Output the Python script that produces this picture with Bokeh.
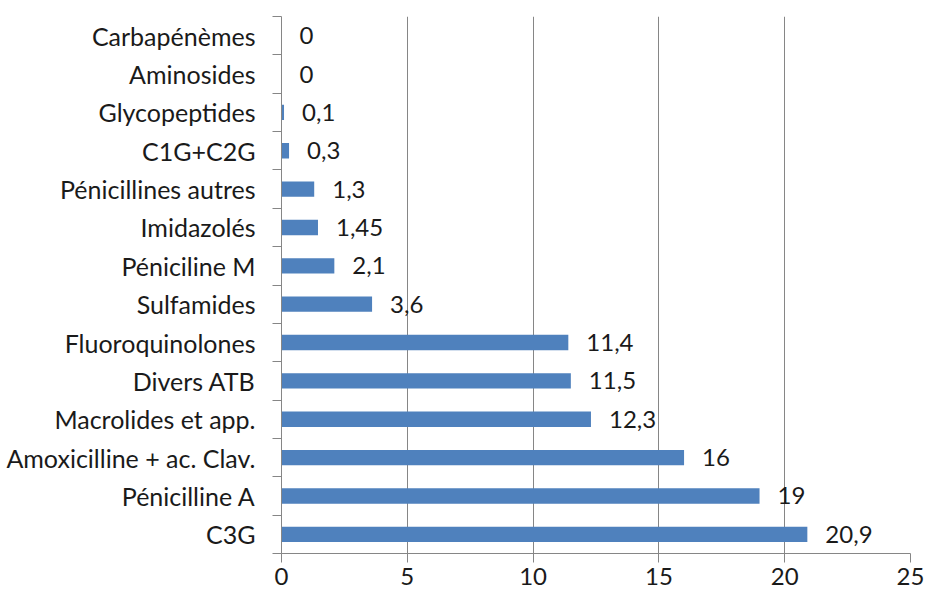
from bokeh.plotting import figure
from bokeh.models import Range1d, FixedTicker, ColumnDataSource
from bokeh.core.properties import value
from bokeh.embed import file_html
from bokeh.resources import INLINE

# Data (bottom to top)
categories = ["C3G", "Pénicilline A", "Amoxicilline + ac. Clav.", "Macrolides et app.",
              "Divers ATB", "Fluoroquinolones", "Sulfamides", "Péniciline M",
              "Imidazolés", "Pénicillines autres", "C1G+C2G", "Glycopeptides",
              "Aminosides", "Carbapénèmes"]
values = [20.9, 19, 16, 12.3, 11.5, 11.4, 3.6, 2.1, 1.45, 1.3, 0.3, 0.1, 0, 0]
x_ticks = [0, 5, 10, 15, 20, 25]

FONT = "Lato"
FS = "24px"
FS_Y = "25px"
GRAY = "#868686"
TXT = "#1a1a1a"


def fmt(v):
    if float(v).is_integer():
        return str(int(v))
    return str(v).replace(".", ",")


pos = [i + 0.5 for i in range(len(categories))]
src = ColumnDataSource(dict(y=pos, v=values, lab=[fmt(v) for v in values]))

p = figure(width=925, height=596, output_backend="svg", toolbar_location=None,
           x_range=Range1d(0, 25), y_range=Range1d(0, len(categories)),
           min_border_left=281, min_border_right=15, min_border_top=16,
           min_border_bottom=43)
p.outline_line_color = None
p.background_fill_color = "white"
p.border_fill_color = "white"

p.hbar(y="y", right="v", left=0, height=0.4, source=src,
       fill_color="#4F81BD", line_color=None)
p.text(x="v", y="y", text="lab", source=src, x_offset=18,
       text_baseline="middle", text_align="left",
       text_font=value(FONT), text_font_size=FS, text_color=TXT)

# x axis
p.xaxis.ticker = FixedTicker(ticks=x_ticks, minor_ticks=[])
p.xaxis.axis_line_color = GRAY
p.xaxis.major_tick_line_color = GRAY
p.xaxis.major_tick_out = 9
p.xaxis.major_tick_in = 0
p.xaxis.minor_tick_line_color = None
p.xaxis.minor_tick_out = 0
p.xaxis.major_label_text_font = FONT
p.xaxis.major_label_text_font_size = FS
p.xaxis.major_label_text_color = TXT
p.xaxis.major_label_standoff = 5

# y axis
p.yaxis.ticker = FixedTicker(ticks=pos, minor_ticks=list(range(len(categories) + 1)))
p.yaxis.major_label_overrides = {pp: c for pp, c in zip(pos, categories)}
p.yaxis.axis_line_color = GRAY
p.yaxis.major_tick_line_color = None
p.yaxis.major_tick_out = 0
p.yaxis.major_tick_in = 0
p.yaxis.minor_tick_line_color = GRAY
p.yaxis.minor_tick_out = 9
p.yaxis.minor_tick_in = 0
p.yaxis.major_label_text_font = FONT
p.yaxis.major_label_text_font_size = FS_Y
p.yaxis.major_label_text_color = TXT
p.yaxis.major_label_standoff = 17

p.xgrid.ticker = FixedTicker(ticks=x_ticks, minor_ticks=[])
p.xgrid.grid_line_color = GRAY
p.ygrid.grid_line_color = None

open("out.html", "w").write(file_html(p, INLINE))
